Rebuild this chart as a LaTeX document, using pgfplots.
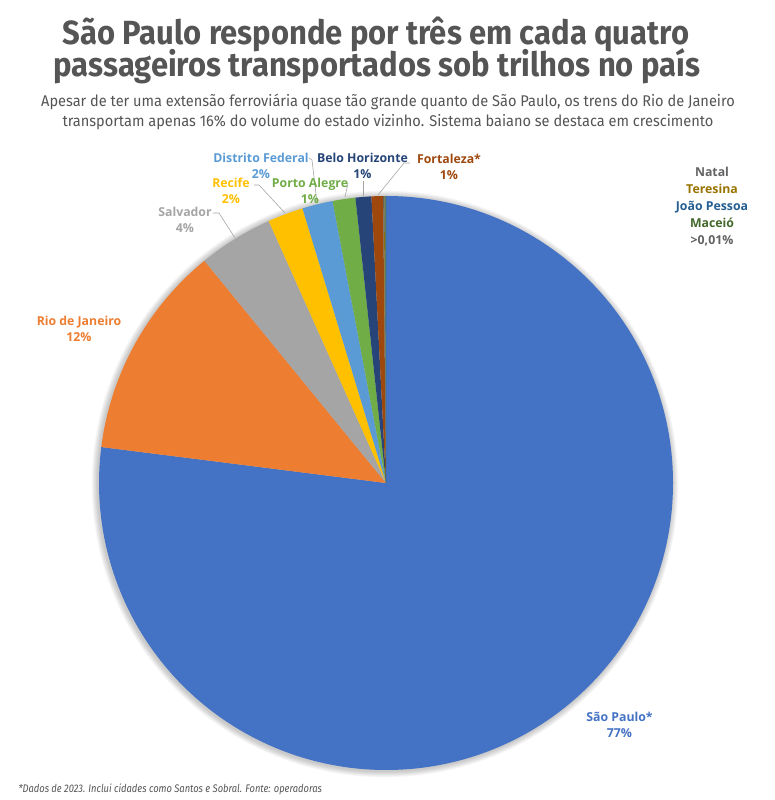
\documentclass[border=0pt]{standalone}
\usepackage{pgfplots}
\pgfplotsset{compat=1.18}
\usepackage{pgfplotstable}
\usepackage{fontspec}
\setmainfont{Open Sans}
\newfontfamily\titlefont[FakeStretch=0.925]{Fira Sans}
\newfontfamily\subfont[FakeStretch=0.94]{Fira Sans}
\newfontfamily\notefont[FakeStretch=0.85]{Fira Sans}
\newfontfamily\lblfont{Open Sans}

\definecolor{cSP}{HTML}{4472C4}
\definecolor{cRJ}{HTML}{ED7D31}
\definecolor{cSA}{HTML}{A5A5A5}
\definecolor{cRE}{HTML}{FFC000}
\definecolor{cDF}{HTML}{5B9BD5}
\definecolor{cPA}{HTML}{70AD47}
\definecolor{cBH}{HTML}{264478}
\definecolor{cFO}{HTML}{9E480E}
\definecolor{cNA}{HTML}{636363}
\definecolor{cTE}{HTML}{997300}
\definecolor{cJP}{HTML}{255E91}
\definecolor{cMA}{HTML}{43682B}
\definecolor{txt}{HTML}{555555}
\definecolor{lead}{HTML}{A6A6A6}

\tikzset{lbl/.style={font=\lblfont\bfseries\fontsize{12.3}{16}\selectfont, align=center, anchor=center}}

% share of passengers (%), clockwise from 12 o'clock
\pgfplotstableread[col sep=comma]{
city,share,col
Sao Paulo,77.0,cSP
Rio de Janeiro,12.1,cRJ
Salvador,4.2,cSA
Recife,2.0,cRE
Distrito Federal,1.72,cDF
Porto Alegre,1.28,cPA
Belo Horizonte,0.89,cBH
Fortaleza,0.65,cFO
Natal,0.04,cNA
Teresina,0.04,cTE
Joao Pessoa,0.04,cJP
Maceio,0.04,cMA
}\piedata

\begin{document}
\begin{tikzpicture}
\begin{axis}[
    width=775pt, height=800pt,
    scale only axis,
    xmin=0, xmax=775, ymin=0, ymax=800,
    hide axis,
    clip=false,
]
\fill[white] (axis cs:0,0) rectangle (axis cs:775,800);

\pgfplotsextra{
  % soft shadow
  \foreach \k in {1,...,7}{
    \fill[black, opacity=0.03] (axis cs:385,316) circle[radius={287pt+\k*0.9pt}];
  }
  \pgfplotstablegetrowsof{\piedata}
  \pgfmathtruncatemacro\nrows{\pgfplotsretval-1}
  \xdef\angA{90}
  \foreach \i in {0,...,\nrows}{
    \pgfplotstablegetelem{\i}{share}\of\piedata
    \let\sh\pgfplotsretval
    \pgfplotstablegetelem{\i}{col}\of\piedata
    \let\cc\pgfplotsretval
    \pgfmathsetmacro\angB{\angA-3.6*\sh}
    \fill[fill=\cc] (axis cs:386,317) -- ++(\angA:287pt)
      arc[start angle=\angA, end angle=\angB, radius=287pt] -- cycle;
    \xdef\angA{\angB}
  }
}

% leader lines
\draw[lead, line width=0.6pt] (axis cs:213,587) -- (axis cs:219,587) -- (axis cs:235,562);
\draw[lead, line width=0.6pt] (axis cs:254,615) -- (axis cs:259,615) -- (axis cs:285,587);
\draw[lead, line width=0.6pt] (axis cs:309,642) -- (axis cs:312,640) -- (axis cs:317,597);
\draw[lead, line width=0.6pt] (axis cs:348,617) -- (axis cs:345,603);
\draw[lead, line width=0.6pt] (axis cs:363,619) -- (axis cs:363,604);
\draw[lead, line width=0.6pt] (axis cs:410,637) -- (axis cs:404,637) -- (axis cs:378,605);

% title
\node[font=\titlefont\bfseries\fontsize{33.5}{33}\selectfont, text=txt] at (axis cs:376,766)
  {São Paulo responde por três em cada quatro};
\node[font=\titlefont\bfseries\fontsize{33.5}{33}\selectfont, text=txt] at (axis cs:377,734)
  {passageiros transportados sob trilhos no país};
\node[font=\subfont\fontsize{15.5}{20}\selectfont, text=txt, align=center] at (axis cs:388,688)
  {Apesar de ter uma extensão ferroviária quase tão grande quanto de São Paulo, os trens do Rio de Janeiro\\
   transportam apenas 16\% do volume do estado vizinho. Sistema baiano se destaca em crescimento};

% labels
\node[lbl, text=cDF] at (axis cs:261,634.5) {Distrito Federal\\2\%};
\node[lbl, text=cBH] at (axis cs:362.5,634.5) {Belo Horizonte\\1\%};
\node[lbl, text=cFO] at (axis cs:449,633) {Fortaleza*\\1\%};
\node[lbl, text=cRE] at (axis cs:231,609) {Recife\\2\%};
\node[lbl, text=cPA] at (axis cs:310,609) {Porto Alegre\\1\%};
\node[lbl, text=cSA] at (axis cs:185,580.5) {Salvador\\4\%};
\node[lbl, text=cRJ] at (axis cs:79,471) {Rio de Janeiro\\12\%};
\node[lbl, text=cSP] at (axis cs:619.5,75) {São Paulo*\\77\%};
\node[lbl, font=\lblfont\bfseries\fontsize{12.3}{17}\selectfont] at (axis cs:712,593)
  {\textcolor{cNA}{Natal}\\\textcolor{cTE}{Teresina}\\\textcolor{cJP}{João Pessoa}\\\textcolor{cMA}{Maceió}\\\textcolor{cNA}{>0,01\%}};

% footnote
\node[font=\notefont\itshape\fontsize{11}{11}\selectfont, text=txt, anchor=west] at (axis cs:15,11)
  {*Dados de 2023. Inclui cidades como Santos e Sobral. Fonte: operadoras};
\end{axis}
\end{tikzpicture}
\end{document}
